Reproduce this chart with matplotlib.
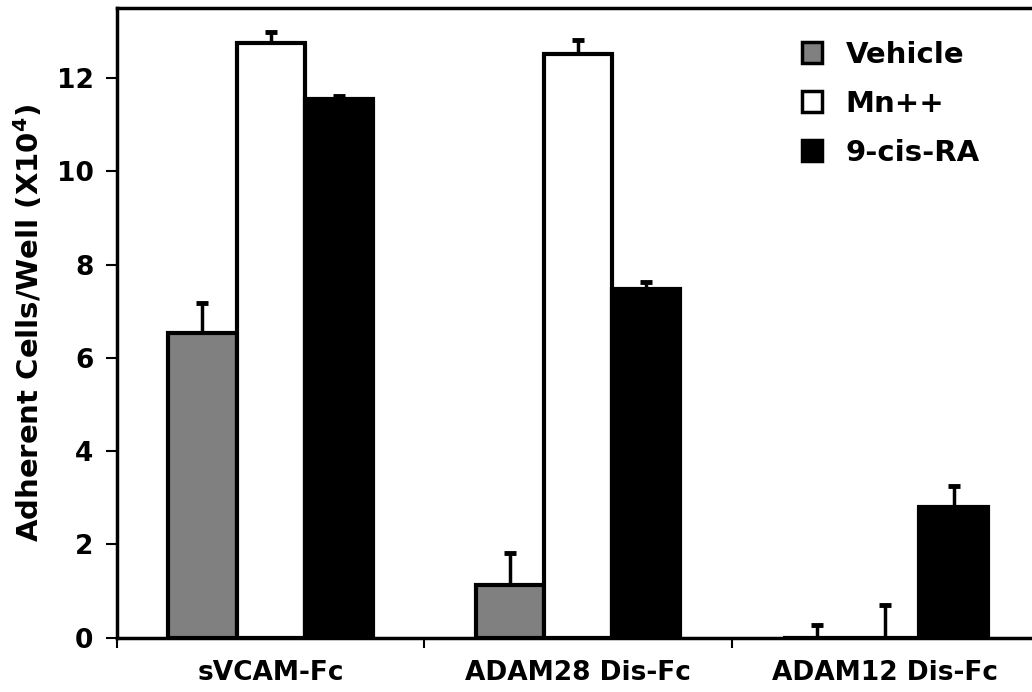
import numpy as np
import matplotlib
matplotlib.use("Agg")
import matplotlib.pyplot as plt

# data
categories = ["sVCAM-Fc", "ADAM28 Dis-Fc", "ADAM12 Dis-Fc"]
series = ["Vehicle", "Mn++", "9-cis-RA"]
vehicle = [6.54, 1.13, 0.0]
mn = [12.75, 12.52, 0.0]
cis_ra = [11.54, 7.47, 2.80]
vehicle_err = [0.64, 0.68, 0.28]
mn_err = [0.23, 0.29, 0.70]
cis_ra_err = [0.08, 0.15, 0.46]
yticks = [0, 2, 4, 6, 8, 10, 12]

values = [vehicle, mn, cis_ra]
errors = [vehicle_err, mn_err, cis_ra_err]
colors = ["#808080", "#ffffff", "#000000"]

plt.rcParams["font.family"] = ["DejaVu Sans"]
plt.rcParams["font.weight"] = "bold"

fig = plt.figure(figsize=(10.32, 6.92), dpi=100)
ax = fig.add_axes([117 / 1032, 1 - 637.6 / 692, 1 - 117 / 1032, (637.6 - 8) / 692])

x = np.arange(len(categories))
w = 0.222
handles = []
for i, (vals, errs, col) in enumerate(zip(values, errors, colors)):
    pos = x + (i - 1) * w
    b = ax.bar(pos, vals, width=w, color=col, edgecolor="black", linewidth=3.0,
               label=series[i], zorder=2)
    ax.errorbar(pos, vals, yerr=[np.zeros(len(errs)), errs], fmt="none",
                ecolor="black", elinewidth=2.5, capsize=4, capthick=3.5, zorder=1)
    handles.append(b)

ax.set_xlim(-0.5, -0.5 + 914 / 307)
ax.set_ylim(0, 13.5)
ax.set_yticks(yticks)
ax.set_yticklabels([str(t) for t in yticks], fontsize=19, fontweight="bold")
ax.set_xticks(x)
ax.set_xticklabels(categories, fontsize=19, fontweight="bold")
ax.set_xticks([0.5, 1.5, -0.5], minor=True)
ax.tick_params(axis="x", which="major", length=0, pad=16)
ax.tick_params(axis="x", which="minor", length=7, width=1.5, direction="out")
ax.tick_params(axis="y", length=8, width=1.5, direction="out", pad=9)

for s in ["left", "top", "bottom"]:
    ax.spines[s].set_linewidth(2.5)
ax.spines["right"].set_visible(False)

ax.set_ylabel("Adherent Cells/Well (X10$^\\mathbf{4}$)", fontsize=21,
              fontweight="bold", labelpad=8)

leg = ax.legend(handles=handles, loc="upper left", bbox_to_anchor=(0.72, 0.99),
                frameon=False, prop={"weight": "bold", "size": 21},
                handlelength=0.7, handleheight=0.7, handletextpad=0.8,
                labelspacing=0.72)
for h in leg.legend_handles:
    h.set_linewidth(2.5)

fig.savefig("out.png", dpi=100)
